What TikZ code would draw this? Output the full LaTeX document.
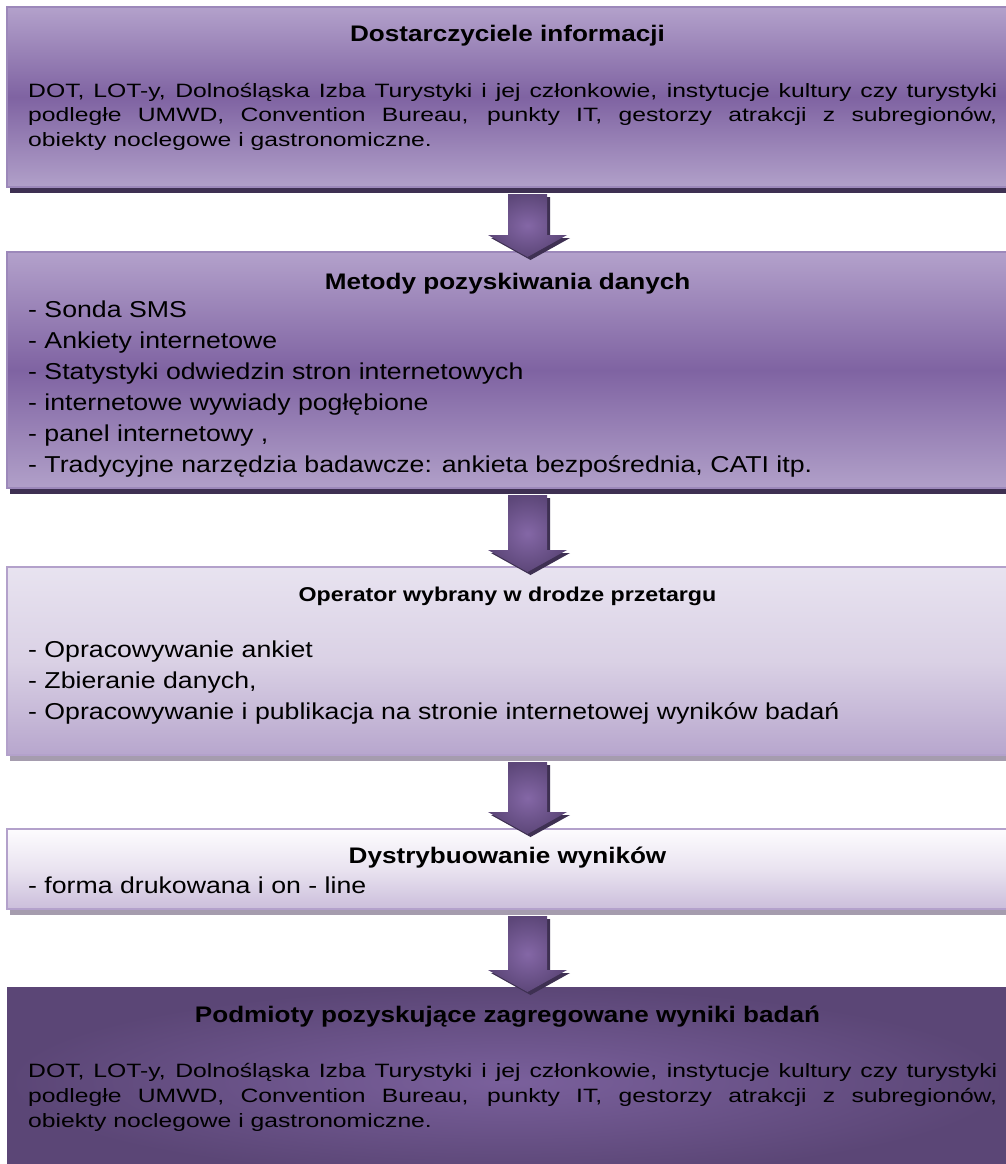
\documentclass[tikz,border=0pt]{standalone}
\usepackage{fontspec}
\setmainfont{Liberation Sans}[FakeStretch=1.16]
\newfontfamily\bodyfont{Liberation Sans}[FakeStretch=1.28]
\usetikzlibrary{calc}

\definecolor{lavtop}{HTML}{B3A1CB}
\definecolor{lavmid}{HTML}{7F63A2}
\definecolor{lavbot}{HTML}{B1A0C9}
\definecolor{paletop}{HTML}{E8E3F0}
\definecolor{palemid}{HTML}{DAD1E5}
\definecolor{palebot}{HTML}{B7A6CD}
\definecolor{whitetop}{HTML}{FDFCFE}
\definecolor{whitemid}{HTML}{E9E3F0}
\definecolor{whitebot}{HTML}{CBBEDB}
\definecolor{deepin}{HTML}{7A609C}
\definecolor{deepout}{HTML}{5B4676}
\definecolor{edgeline}{HTML}{9C88BA}
\definecolor{paleedge}{HTML}{B3A1CB}
\definecolor{darkshadow}{HTML}{3E3052}
\definecolor{greyshadow}{HTML}{A59CAE}
\definecolor{arrowin}{HTML}{8467A6}
\definecolor{arrowout}{HTML}{5D4779}

% block arrow between two stacked boxes
\newcommand\flowarrow[2]{%
  \fill[darkshadow] let \p1=($(#1.south)+(23,10)$), \p2=($(#2.north)+(23,-14)$), \p3=($(#2.north)+(23,8)$) in
    (\x1-19.5pt,\y1) -- (\x1+19.5pt,\y1) -- (\x1+19.5pt,\y2) -- (\x1+39.5pt,\y2)
    -- (\x1,\y3) -- (\x1-39.5pt,\y2) -- (\x1-19.5pt,\y2) -- cycle;
  \shade[inner color=arrowin, outer color=arrowout] let \p1=($(#1.south)+(20,7)$), \p2=($(#2.north)+(20,-17)$), \p3=($(#2.north)+(20,5)$) in
    (\x1-19.5pt,\y1) -- (\x1+19.5pt,\y1) -- (\x1+19.5pt,\y2) -- (\x1+39.5pt,\y2)
    -- (\x1,\y3) -- (\x1-39.5pt,\y2) -- (\x1-19.5pt,\y2) -- cycle;
}

\tikzset{
  panel/.style={rectangle, inner sep=0pt, outer sep=0pt, anchor=north west, minimum width=1001pt},
  violetpanel/.style={panel, draw=edgeline, line width=1.5pt, top color=lavtop, bottom color=lavbot, middle color=lavmid},
  palepanel/.style={panel, draw=paleedge, line width=1.5pt, top color=paletop, bottom color=palebot, middle color=palemid},
  whitepanel/.style={panel, draw=paleedge, line width=1.5pt, top color=whitetop, bottom color=whitebot, middle color=whitemid},
  deeppanel/.style={panel, inner color=deepin, outer color=deepout},
  heading/.style={inner sep=0pt, anchor=base, font=\bfseries\fontsize{22.5}{27}\selectfont},
  smallheading/.style={heading, font=\bfseries\fontsize{20}{24}\selectfont},
  listline/.style={inner sep=0pt, anchor=base west, font=\fontsize{23}{28}\selectfont},
  bodyline/.style={inner sep=0pt, anchor=base west, font=\bodyfont\fontsize{19.3}{24}\selectfont},
}

\begin{document}
\begin{tikzpicture}[x=1pt, y=-1pt]
\useasboundingbox (0,0) rectangle (1006,1164);
\fill[white] (0,0) rectangle (1006,1164);

% panels
\node[violetpanel, minimum height=180pt] (b1) at (7,7) {};
\node[violetpanel, minimum height=236pt] (b2) at (7,252) {};
\node[palepanel, minimum height=188pt] (b3) at (7,567) {};
\node[whitepanel, minimum height=80pt] (b4) at (7,829) {};
\node[deeppanel, minimum height=190pt] (b5) at (7,987) {};

% shadows under the panels
\fill[darkshadow] ($(b1.south west)+(3,1)$) rectangle ($(b1.south east)+(3,6)$);
\fill[darkshadow] ($(b2.south west)+(3,1)$) rectangle ($(b2.south east)+(3,6)$);
\fill[greyshadow] ($(b3.south west)+(3,1)$) rectangle ($(b3.south east)+(3,6)$);
\fill[greyshadow] ($(b4.south west)+(3,1)$) rectangle ($(b4.south east)+(3,6)$);

% arrows
\flowarrow{b1}{b2}
\flowarrow{b2}{b3}
\flowarrow{b3}{b4}
\flowarrow{b4}{b5}

% panel 1
\node[heading] (h1) at (507.5,42) {Dostarczyciele informacji};
\node[bodyline] (p1a) at (28,97) {\makebox[969pt][s]{DOT, LOT-y, Dolnośląska Izba Turystyki i jej członkowie, instytucje kultury czy turystyki}};
\node[bodyline] (p1b) at (28,121.5) {\makebox[969pt][s]{podległe UMWD, Convention Bureau, punkty IT, gestorzy atrakcji z subregionów,}};
\node[bodyline] (p1c) at (28,146) {obiekty noclegowe i gastronomiczne.};

% panel 2
\node[heading] (h2) at (507.5,289) {Metody pozyskiwania danych};
\foreach \t [count=\i] in {{- Sonda SMS},{- Ankiety internetowe},{- Statystyki odwiedzin stron internetowych},{- internetowe wywiady pogłębione},{- panel internetowy ,},{- Tradycyjne narzędzia badawcze: ankieta bezpośrednia, CATI itp.}}
  \node[listline] (m\i) at (28,{286+31*\i}) {\t};

% panel 3
\node[smallheading] (h3) at (507.5,601) {Operator wybrany w drodze przetargu};
\foreach \t [count=\i] in {{- Opracowywanie ankiet},{- Zbieranie danych,},{- Opracowywanie i publikacja na stronie internetowej wyników badań}}
  \node[listline] (o\i) at (28,{626+31*\i}) {\t};

% panel 4
\node[heading] (h4) at (507.5,863) {Dystrybuowanie wyników};
\node[listline] (d1) at (28,893) {- forma drukowana i on - line};

% panel 5
\node[heading] (h5) at (507.5,1022) {Podmioty pozyskujące zagregowane wyniki badań};
\node[bodyline] (p5a) at (28,1077) {\makebox[969pt][s]{DOT, LOT-y, Dolnośląska Izba Turystyki i jej członkowie, instytucje kultury czy turystyki}};
\node[bodyline] (p5b) at (28,1102) {\makebox[969pt][s]{podległe UMWD, Convention Bureau, punkty IT, gestorzy atrakcji z subregionów,}};
\node[bodyline] (p5c) at (28,1127) {obiekty noclegowe i gastronomiczne.};
\end{tikzpicture}
\end{document}
